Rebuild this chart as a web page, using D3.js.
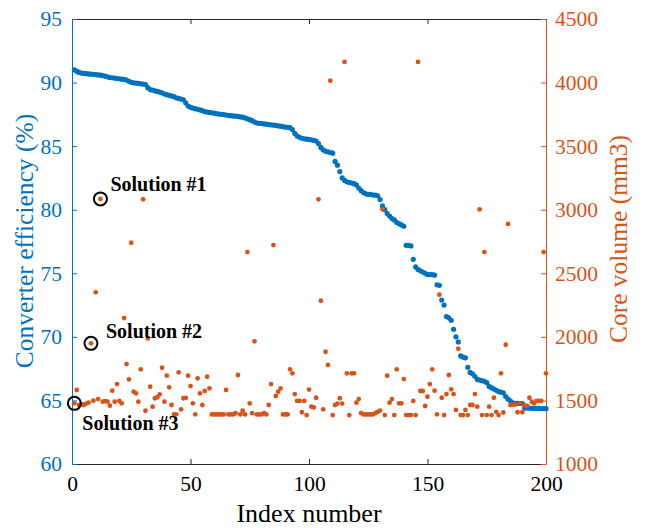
<!DOCTYPE html>
<html>
<head>
<meta charset="utf-8">
<script src="https://cdn.jsdelivr.net/npm/d3@7"></script>
<style>
body { margin: 0; background: #fff; }
svg text { font-family: "Liberation Serif", "Times New Roman", Tinos, Times, serif; }
</style>
</head>
<body>
<div id="chart"></div>
<script>
// converter efficiency (%) per design, sorted
var efficiency = [
    91.0, 90.9, 90.8, 90.75, 90.72, 90.7, 90.68, 90.66, 90.65, 90.63,
    90.6, 90.58, 90.55, 90.5, 90.45, 90.4, 90.38, 90.35, 90.32, 90.3,
    90.27, 90.25, 90.2, 90.1, 90.02, 89.98, 89.95, 89.93, 89.9, 89.88,
    89.85, 89.6, 89.45, 89.4, 89.35, 89.3, 89.25, 89.2, 89.1, 89.05,
    89.0, 88.95, 88.9, 88.8, 88.75, 88.7, 88.65, 88.4, 88.15, 88.05,
    88.0, 87.95, 87.9, 87.85, 87.8, 87.72, 87.68, 87.65, 87.62, 87.6,
    87.55, 87.52, 87.5, 87.48, 87.45, 87.42, 87.4, 87.38, 87.36, 87.34,
    87.3, 87.28, 87.22, 87.15, 87.08, 87.0, 86.9, 86.82, 86.8, 86.78,
    86.75, 86.73, 86.7, 86.68, 86.66, 86.63, 86.6, 86.57, 86.53, 86.5,
    86.48, 86.45, 86.3, 86.0, 85.8, 85.7, 85.62, 85.58, 85.55, 85.53,
    85.5, 85.45, 85.4, 85.2, 84.9, 84.7, 84.6, 84.55, 84.5, 84.45,
    83.8, 83.5, 83.0, 82.5, 82.3, 82.2, 82.15, 82.1, 82.05, 81.95,
    81.7, 81.5, 81.35, 81.25, 81.2, 81.2, 81.15, 81.15, 81.1, 80.8,
    80.3, 80.0, 79.7, 79.5, 79.3, 79.2, 79.0, 78.9, 78.8, 78.7,
    77.2, 77.2, 77.15, 76.1, 75.5, 75.3, 75.2, 75.1, 75.0, 74.9,
    74.9, 74.9, 74.85, 74.1, 74.05, 72.9, 72.5, 71.6, 71.5, 71.3,
    70.6, 70.0, 69.6, 68.5, 68.4, 68.35, 67.6, 67.2, 67.1, 66.9,
    66.65, 66.6, 66.55, 66.5, 66.4, 66.1, 66.0, 65.9, 65.8, 65.7,
    65.65, 65.6, 65.3, 65.1, 64.95, 64.8, 64.78, 64.77, 64.76, 64.75,
    64.4, 64.4, 64.4, 64.38, 64.38, 64.37, 64.37, 64.36, 64.36, 64.35
];

// core volume (mm3) per design
var coreVolume = [
    1477, 1582, 1464, 1470, 1464, 1475, 1482, 1949, 1498, 2350,
    1511, 3085, 1490, 1495, 1490, 1459, 1577, 1490, 1629, 1496,
    1477, 2148, 1786, 1666, 2740, 1569, 1556, 1490, 1745, 3082,
    1419, 1988, 1608, 1451, 1517, 1525, 1548, 1757, 1490, 1695,
    1603, 1464, 1391, 1391, 1721, 1430, 1517, 1520, 1695, 1613,
    1477, 1391, 1674, 1556, 1464, 1574, 1687, 1595, 1390, 1390,
    1390, 1390, 1390, 1390, 1582, 1390, 1390, 1390, 1399, 1700,
    1390, 1419, 1390, 2667, 1477, 1400, 1965, 1390, 1390, 1390,
    1400, 1390, 1464, 1629, 2722, 1535, 1569, 1595, 1390, 1390,
    1390, 1745, 1713, 1550, 1496, 1496, 1407, 1496, 1385, 1585,
    1451, 1445, 1521, 3082, 2284, 1430, 1883, 1779, 4015, 1385,
    1464, 1475, 1517, 1475, 4162, 1713, 1385, 1713, 1713, 1482,
    1511, 1400, 1390, 1390, 1390, 1390, 1390, 1400, 1410, 1420,
    3003, 1385, 1695, 1482, 1511, 1385, 1745, 1477, 1477, 1668,
    1385, 1385, 1385, 1496, 1385, 4162, 1574, 1574, 1456, 1529,
    1629, 1745, 1577, 1391, 2332, 1521, 1385, 1550, 1700, 1587,
    1550, 1425, 1907, 1385, 1385, 1425, 1385, 1464, 1464, 1550,
    1451, 3003, 1385, 2667, 1385, 1451, 1385, 1521, 1410, 1385,
    1713, 1405, 1938, 2888, 1464, 1467, 1467, 1407, 1477, 1407,
    1460, 1456, 1521, 1490, 1477, 1496, 1496, 1496, 2667, 1713
];

var xTicks = [0, 50, 100, 150, 200];
var leftTicks = [60, 65, 70, 75, 80, 85, 90, 95];
var rightTicks = [1000, 1500, 2000, 2500, 3000, 3500, 4000, 4500];

// highlighted designs (index into the series) and their labels
var solutionIdx = [12, 8, 1];
var solutionNames = ["Solution #1", "Solution #2", "Solution #3"];

var blue = "#0072BD", orange = "#D95319", axisColor = "#262626";
var serif = '"Liberation Serif", "Times New Roman", Tinos, Times, serif';
var outwidth = 648, outheight = 528;
var margin = { left: 72, top: 19, right: 102, bottom: 64 };
var width = outwidth - margin.left - margin.right;
var height = outheight - margin.top - margin.bottom;
var tickLen = 5;

var points = efficiency.map(function (d, i) {
    return { idx: i + 1, eff: d, vol: coreVolume[i] };
});

var svg = d3.select("#chart")
    .append("svg")
    .attr("width", outwidth)
    .attr("height", outheight)
    .attr("font-family", serif);
svg.append("rect").attr("width", outwidth).attr("height", outheight).attr("fill", "#fff");

var g = svg.append("g")
    .attr("transform", `translate(${margin.left},${margin.top})`);

var x = d3.scaleLinear().domain([0, 200]).range([0, width]);
var yL = d3.scaleLinear().domain([60, 95]).range([height, 0]);
var yR = d3.scaleLinear().domain([1000, 4500]).range([height, 0]);

// axes (ticks point inward)
var xAxis = g.append("g")
    .attr("transform", `translate(0,${height})`)
    .call(d3.axisBottom(x).tickValues(xTicks).tickSizeInner(-tickLen).tickSizeOuter(0).tickPadding(12));
var xTop = g.append("g")
    .call(d3.axisTop(x).tickValues(xTicks).tickSizeInner(-tickLen).tickSizeOuter(0).tickFormat(""));
var yAxisL = g.append("g")
    .call(d3.axisLeft(yL).tickValues(leftTicks).tickSizeInner(-tickLen).tickSizeOuter(0).tickPadding(10));
var yAxisR = g.append("g")
    .attr("transform", `translate(${width},0)`)
    .call(d3.axisRight(yR).tickValues(rightTicks).tickFormat(d3.format("d"))
        .tickSizeInner(-tickLen).tickSizeOuter(0).tickPadding(9));

g.selectAll(".tick text").attr("font-family", serif).style("font-family", serif).style("font-size", "21.5px");
[xAxis, xTop].forEach(function (a) {
    a.attr("font-family", serif);
    a.select(".domain").attr("stroke", axisColor);
    a.selectAll(".tick line").attr("stroke", axisColor);
});
xAxis.selectAll(".tick text").attr("fill", "#000");
yAxisL.attr("font-family", serif);
yAxisL.selectAll(".domain, .tick line").attr("stroke", blue);
yAxisL.selectAll(".tick text").attr("fill", blue);
yAxisR.attr("font-family", serif);
yAxisR.selectAll(".domain, .tick line").attr("stroke", orange);
yAxisR.selectAll(".tick text").attr("fill", orange);

// efficiency dots
g.selectAll(".eff-dot")
    .data(points)
    .join("circle")
    .attr("class", "eff-dot")
    .attr("cx", d => x(d.idx))
    .attr("cy", d => yL(d.eff))
    .attr("r", 2.6)
    .attr("fill", blue);

// core volume dots
g.selectAll(".vol-dot")
    .data(points)
    .join("circle")
    .attr("class", "vol-dot")
    .attr("cx", d => x(d.idx))
    .attr("cy", d => yR(d.vol))
    .attr("r", 2.4)
    .attr("fill", orange);

// solution markers
var sol = solutionIdx.map(function (k, j) {
    return { p: points[k - 1], name: solutionNames[j] };
});
var labelOffset = [[10, -8], [15, -5], [8, 27]];
g.selectAll(".sol-ring")
    .data(sol)
    .join("circle")
    .attr("class", "sol-ring")
    .attr("cx", d => x(d.p.idx))
    .attr("cy", d => yR(d.p.vol))
    .attr("r", 6.5)
    .attr("fill", "none")
    .attr("stroke", "#000")
    .attr("stroke-width", 2);
g.selectAll(".sol-label")
    .data(sol)
    .join("text")
    .attr("class", "sol-label")
    .attr("x", (d, i) => x(d.p.idx) + labelOffset[i][0])
    .attr("y", (d, i) => yR(d.p.vol) + labelOffset[i][1])
    .style("font-size", "20px")
    .style("font-weight", "bold")
    .attr("fill", "#000")
    .text(d => d.name);

// axis titles
svg.append("text")
    .attr("x", margin.left + width / 2)
    .attr("y", 522)
    .attr("text-anchor", "middle")
    .style("font-size", "26px")
    .attr("fill", "#000")
    .text("Index number");
svg.append("text")
    .attr("transform", "translate(33,241) rotate(-90)")
    .attr("text-anchor", "middle")
    .style("font-size", "25.5px")
    .attr("fill", blue)
    .text("Converter efficiency (%)");
svg.append("text")
    .attr("transform", "translate(627,239) rotate(-90)")
    .attr("text-anchor", "middle")
    .style("font-size", "25.5px")
    .attr("fill", orange)
    .text("Core volume (mm3)");
</script>
</body>
</html>
